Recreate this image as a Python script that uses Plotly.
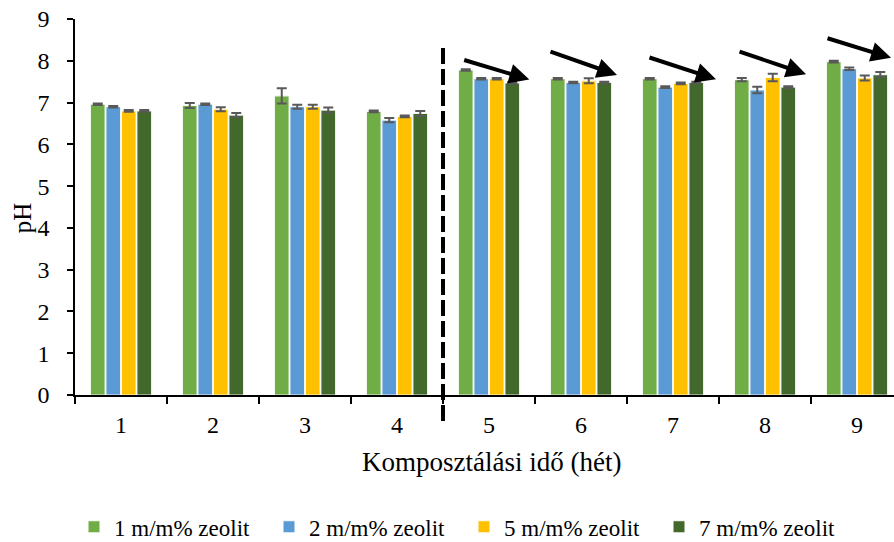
import plotly.graph_objects as go

# Composting time (weeks)
weeks = ["1", "2", "3", "4", "5", "6", "7", "8", "9"]

# pH means per zeolite dose
ph_1 = [6.96, 6.93, 7.16, 6.79, 7.78, 7.57, 7.57, 7.55, 7.98]
ph_2 = [6.90, 6.96, 6.90, 6.58, 7.57, 7.48, 7.37, 7.30, 7.81]
ph_5 = [6.80, 6.84, 6.90, 6.67, 7.57, 7.52, 7.46, 7.60, 7.59]
ph_7 = [6.80, 6.70, 6.82, 6.74, 7.47, 7.48, 7.48, 7.37, 7.67]

# standard deviations
sd_1 = [0.02, 0.06, 0.18, 0.02, 0.02, 0.02, 0.02, 0.04, 0.02]
sd_2 = [0.02, 0.02, 0.05, 0.05, 0.02, 0.02, 0.02, 0.08, 0.03]
sd_5 = [0.02, 0.05, 0.05, 0.02, 0.02, 0.06, 0.02, 0.09, 0.06]
sd_7 = [0.02, 0.05, 0.06, 0.06, 0.02, 0.02, 0.02, 0.02, 0.06]

series_names = ["1 m/m% zeolit", "2 m/m% zeolit", "5 m/m% zeolit", "7 m/m% zeolit"]
series_colors = ["#70AD47", "#5B9BD5", "#FFC000", "#43682B"]

# trend arrows: (tail x, tail y, tip x, tip y) in axis units
trend_arrows = [
    (3.714, 8.03, 4.438, 7.55),
    (4.652, 8.23, 5.391, 7.66),
    (5.728, 8.09, 6.467, 7.56),
    (6.707, 8.23, 7.446, 7.68),
    (7.663, 8.55, 8.370, 8.07),
]

# boundary between the two composting phases (between week 4 and 5)
phase_split = 3.5

x_title = "Komposztálási idő (hét)"
y_title = "pH"

FONT = "Liberation Serif, Times New Roman, serif"
x_range = [-0.5, 8.402]
y_range = [0, 9]

fig = go.Figure()
for name, color, vals, err in zip(series_names, series_colors,
                                  [ph_1, ph_2, ph_5, ph_7],
                                  [sd_1, sd_2, sd_5, sd_7]):
    fig.add_trace(go.Bar(
        x=weeks, y=vals, name=name,
        marker=dict(color=color, line=dict(color="rgba(255,255,255,0.85)", width=1.2)),
        error_y=dict(type="data", array=err, visible=True,
                     color="#595959", thickness=2, width=5),
    ))

for tx, ty, hx, hy in trend_arrows:
    fig.add_annotation(
        x=hx, y=hy, ax=tx, ay=ty, xref="x", yref="y", axref="x", ayref="y",
        text="", showarrow=True, arrowhead=2, arrowsize=1, arrowwidth=4,
        arrowcolor="black",
    )

# axis titles placed as free text
fig.add_annotation(
    text=x_title, xref="paper", yref="paper", x=0.509, y=-0.178,
    xanchor="center", yanchor="middle", showarrow=False,
    font=dict(family=FONT, size=27, color="black"),
)
fig.add_annotation(
    text=y_title, xref="paper", yref="paper", x=-0.063, y=0.471,
    xanchor="center", yanchor="middle", showarrow=False, textangle=-90,
    font=dict(family=FONT, size=25, color="black"),
)

# dashed separator, extending below the axis
px = (phase_split - x_range[0]) / (x_range[1] - x_range[0])
fig.add_shape(
    type="line", xref="paper", yref="paper",
    x0=px, x1=px, y0=-0.62 / y_range[1], y1=8.33 / y_range[1],
    line=dict(color="black", width=4, dash="16px,5px"),
)

fig.update_layout(
    width=894, height=542,
    margin=dict(l=75, r=0, t=19, b=147),
    paper_bgcolor="white", plot_bgcolor="white",
    barmode="group", bargap=0.326, bargroupgap=0.05,
    font=dict(family=FONT, color="black", size=22),
    showlegend=True,
    legend=dict(
        orientation="h", xref="container", yref="container",
        x=74 / 894, xanchor="left", y=0.028, yanchor="middle",
        font=dict(family=FONT, size=23, color="black"),
        entrywidth=150, entrywidthmode="pixels", itemwidth=30,
        traceorder="normal",
    ),
    xaxis=dict(
        type="category", range=x_range,
        showline=True, linecolor="black", linewidth=1.5,
        ticks="outside", tickson="boundaries", ticklen=7, tickwidth=1.5, tickcolor="black",
        tickfont=dict(family=FONT, size=24), ticklabelstandoff=7,
        showgrid=False, zeroline=False,
    ),
    yaxis=dict(
        range=y_range, dtick=1,
        showline=True, linecolor="black", linewidth=1.5,
        ticks="outside", ticklen=6, tickwidth=1.5, tickcolor="black",
        tickfont=dict(family=FONT, size=24), ticklabelstandoff=13,
        showgrid=False, zeroline=False,
    ),
)

fig.write_html("out.html")
